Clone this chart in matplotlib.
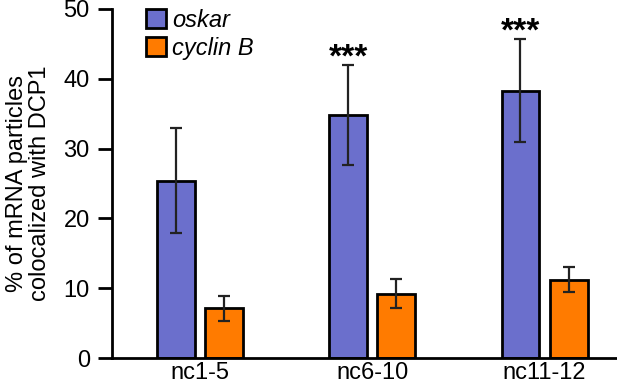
import matplotlib
matplotlib.use("Agg")
import matplotlib.pyplot as plt
import numpy as np

plt.rcParams['font.family'] = ['Liberation Sans', 'DejaVu Sans']

# data
stages = ['nc1-5', 'nc6-10', 'nc11-12']
oskar = [25.4, 34.8, 38.3]
oskar_err = [7.5, 7.2, 7.4]
cyclin = [7.1, 9.2, 11.2]
cyclin_err = [1.8, 2.1, 1.8]
stars = ['', '***', '***']

purple = '#6B6FCC'
orange = '#FF7B00'

fig = plt.figure(figsize=(6.17, 3.84), dpi=100)
ax = fig.add_axes([0.1815, 0.0677, 0.8185, 0.9089])

x = np.arange(len(stages))
w = 0.22
off = 0.14
ekw = dict(elinewidth=1.6, capthick=1.6, capsize=4, ecolor='#222222')
ax.bar(x - off, oskar, w, yerr=oskar_err, color=purple, edgecolor='black',
       linewidth=2, error_kw=ekw, label='oskar')
ax.bar(x + off, cyclin, w, yerr=cyclin_err, color=orange, edgecolor='black',
       linewidth=2, error_kw=ekw, label='cyclin B')

for i in range(len(stages)):
    if stars[i]:
        ax.text(x[i] - off, oskar[i] + oskar_err[i] + 0.95, stars[i],
                ha='center', va='center', fontsize=24, fontweight='bold')

ax.set_xlim(-0.51, 2.42)
ax.set_ylim(0, 50)
ax.set_yticks([0, 10, 20, 30, 40, 50])
ax.set_xticks(x)
ax.set_xticklabels(stages)
ax.tick_params(axis='y', length=10, width=2, labelsize=17, pad=6)
ax.tick_params(axis='x', length=0, labelsize=17, pad=3)
for s in ['top', 'right']:
    ax.spines[s].set_visible(False)
for s in ['left', 'bottom']:
    ax.spines[s].set_linewidth(2)
ax.set_ylabel('% of mRNA particles\ncolocalized with DCP1', fontsize=17,
              linespacing=1.05, labelpad=9)

leg = ax.legend(loc='upper left', bbox_to_anchor=(0.067, 1.0), frameon=False,
                fontsize=17, handlelength=0.85, handleheight=0.85,
                handletextpad=0.25, labelspacing=0.2, borderaxespad=0,
                borderpad=0)
for t in leg.get_texts():
    t.set_style('italic')

fig.savefig('out.png', dpi=100)
